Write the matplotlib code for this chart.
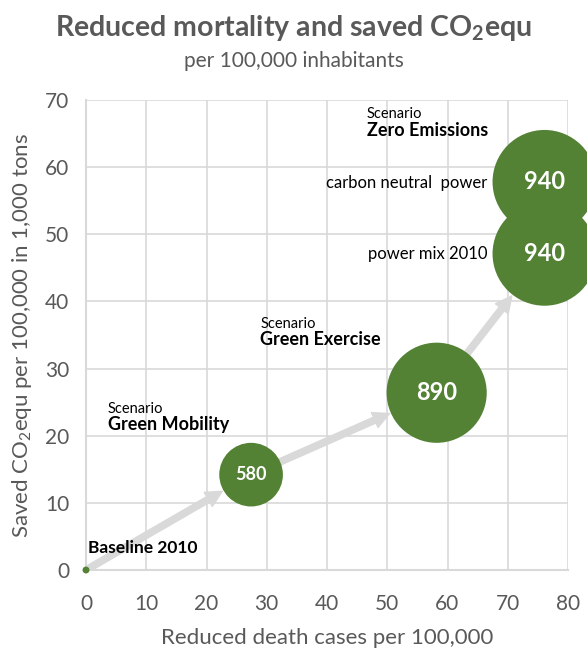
import matplotlib.pyplot as plt
from matplotlib.patches import FancyArrowPatch

plt.rcParams['font.family'] = ['Lato', 'DejaVu Sans']
plt.rcParams['mathtext.fontset'] = 'custom'
plt.rcParams['mathtext.rm'] = 'Lato'
plt.rcParams['mathtext.bf'] = 'Lato:bold'

# --- data
labels = ["", "580", "890", "940", "940"]
deaths = [0, 27.4, 58.2, 76.1, 76.1]
co2 = [0, 14.2, 26.4, 47.1, 57.8]
bubble_size = [25, 2100, 5200, 5600, 5600]
path = [0, 1, 2, 3]  # scenario chain for the arrows

green = "#548235"
grey_txt = "#595959"
grid_col = "#d9d9d9"

fig = plt.figure(figsize=(5.87, 6.48), dpi=100)
ax = fig.add_axes([86 / 587, 78 / 648, 482 / 587, 470 / 648])

# arrows first, under the bubbles
for a, b in zip(path[:-1], path[1:]):
    rb = (bubble_size[b] ** 0.5) / 2
    ra = (bubble_size[a] ** 0.5) / 2
    arr = FancyArrowPatch((deaths[a], co2[a]), (deaths[b], co2[b]),
                          arrowstyle="simple,head_length=0.9,head_width=0.9,tail_width=0.35",
                          color=grid_col, shrinkA=ra, shrinkB=rb + 1,
                          mutation_scale=13, zorder=2)
    ax.add_patch(arr)

ax.scatter(deaths, co2, s=bubble_size, color=green, zorder=3, clip_on=False,
           linewidths=0)
for x, y, t, s in zip(deaths, co2, labels, bubble_size):
    if t:
        fs = 13 if s < 3000 else 17
        ax.text(x, y, t, color="white", fontsize=fs, fontweight="bold",
                ha="center", va="center", zorder=4)

ax.set_xlim(0, 80)
ax.set_ylim(0, 70)
ax.set_xticks(range(0, 81, 10))
ax.set_yticks(range(0, 71, 10))
ax.grid(True, color=grid_col, linewidth=1.2)
ax.set_axisbelow(True)
for sp in ["top", "right"]:
    ax.spines[sp].set_visible(False)
for sp in ["left", "bottom"]:
    ax.spines[sp].set_color(grid_col)
    ax.spines[sp].set_linewidth(1.5)
ax.tick_params(length=0, labelsize=15, labelcolor=grey_txt, pad=12)
ax.tick_params(axis="x", pad=17)

ax.set_xlabel("Reduced death cases per 100,000", fontsize=16, color=grey_txt, labelpad=10)
ax.set_ylabel("Saved CO$_2$equ per 100,000 in 1,000 tons", fontsize=16,
              color=grey_txt, labelpad=8)

# annotations
ax.text(3.6, 24, "Scenario", fontsize=10.5, va="center")
ax.text(3.6, 21.7, "Green Mobility", fontsize=13, fontweight="bold", va="center")
ax.text(0.3, 3.3, "Baseline 2010", fontsize=12.5, fontweight="bold", va="center")
ax.text(28.9, 36.7, "Scenario", fontsize=10.5, va="center")
ax.text(28.9, 34.3, "Green Exercise", fontsize=13, fontweight="bold", va="center")
ax.text(46.6, 67.9, "Scenario", fontsize=10.5, va="center")
ax.text(46.6, 65.4, "Zero Emissions", fontsize=13, fontweight="bold", va="center")
ax.text(66.6, 57.7, "carbon neutral  power", fontsize=12, ha="right", va="center")
ax.text(66.6, 47.1, "power mix 2010", fontsize=12, ha="right", va="center")

fig.text(0.5, 1 - 28 / 648, r"Reduced mortality and saved CO$_\mathbf{2}$equ", ha="center",
         va="center", fontsize=20.5, fontweight="bold", color=grey_txt)
fig.text(0.5, 1 - 61 / 648, "per 100,000 inhabitants", ha="center", va="center",
         fontsize=15, color=grey_txt)

fig.savefig("out.png", dpi=100)
